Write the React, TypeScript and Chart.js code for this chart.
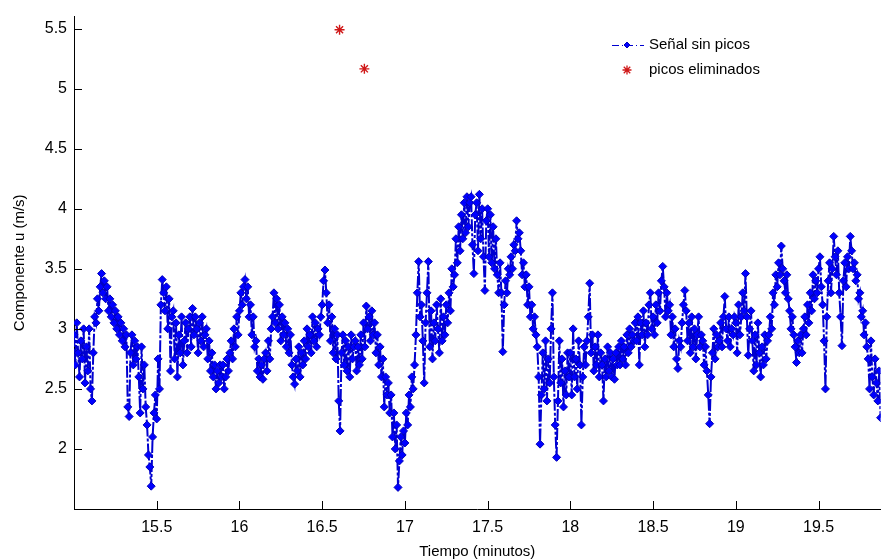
import React, { useEffect, useRef } from "react";
import { Chart, registerables } from "chart.js";

Chart.register(...registerables);

// Time base of the uniformly sampled signal (minutes): 0.5 s steps
const T0 = 15.0;
const DT = 1 / 120;

// Componente u (m/s) (12 samples per 0.1 min)
const signal: number[] = [
  2.95, 2.7, 3.05, 2.8, 2.6, 2.9, 2.75, 3.0, 2.55, 2.85, 2.65, 3.0,
  2.5, 2.4, 2.8, 3.1, 3.05, 3.25, 3.15, 3.35, 3.46, 3.3, 3.4, 3.25,
  3.35, 3.15, 3.25, 3.1, 3.2, 3.05, 3.15, 3.0, 3.1, 2.95, 3.05, 2.9,
  3.0, 2.85, 2.95, 2.35, 2.27, 2.8, 2.95, 2.7, 2.9, 2.75, 2.85, 2.6,
  2.3, 2.85, 2.5, 2.7, 2.35, 2.2, 1.95, 1.85, 1.69, 2.1, 2.3, 2.45,
  2.25, 2.75, 2.5, 3.2, 3.41, 3.3, 3.15, 3.35, 3.0, 3.25, 2.65, 3.1,
  3.15, 2.75, 3.05, 2.6, 2.95, 2.8, 3.1, 2.7, 2.9, 3.05, 2.8, 3.0,
  3.1, 2.85, 3.17, 2.95, 3.1, 3.0, 2.8, 3.05, 2.9, 3.1, 2.85, 2.95,
  3.0, 2.75, 2.9, 2.65, 2.8, 2.6, 2.7, 2.5, 2.65, 2.55, 2.7, 2.6,
  2.7, 2.5, 2.6, 2.75, 2.65, 2.8, 2.9, 2.75, 3.0, 2.85, 3.1, 2.95,
  3.15, 3.3, 3.2, 3.35, 3.41, 3.25, 3.35, 3.1, 3.2, 2.95, 3.1, 2.85,
  2.9, 2.65, 2.75, 2.6, 2.7, 2.58, 2.75, 2.8, 2.65, 2.9, 2.75, 3.0,
  3.1, 3.3, 3.05, 3.25, 3.0, 3.2, 2.9, 3.1, 2.95, 3.05, 2.85, 3.0,
  2.8, 2.95, 2.7, 2.6, 2.54, 2.75, 2.65, 2.85, 2.6, 2.8, 2.7, 2.9,
  2.75, 3.0, 2.85, 2.95, 2.8, 3.1, 2.9, 3.05, 2.85, 3.0, 2.95, 3.1,
  3.2, 3.4, 3.49, 3.3, 3.05, 3.2, 2.9, 3.1, 2.8, 3.0, 2.75, 2.95,
  2.4, 2.15, 2.8, 2.95, 2.7, 2.9, 2.65, 2.85, 2.6, 2.95, 2.75, 2.85,
  2.9, 2.65, 2.85, 2.7, 2.95, 2.75, 3.05, 2.85, 3.19, 3.0, 3.1, 2.9,
  3.15, 2.95, 3.05, 2.8, 2.95, 2.7, 2.85, 2.6, 2.75, 2.35, 2.6, 2.45,
  2.55, 2.3, 2.45, 2.1, 2.3, 2.0, 2.2, 1.68, 1.9, 2.1, 1.95, 2.15,
  2.05, 2.3, 2.2, 2.45, 2.35, 2.6, 2.5, 2.7, 2.95, 3.3, 3.56, 3.1,
  3.2, 2.9, 2.55, 3.05, 3.3, 3.56, 2.85, 3.15, 2.75, 3.05, 2.9, 3.2,
  3.0, 2.8, 3.25, 2.9, 3.1, 2.95, 3.2, 3.05, 3.3, 3.15, 3.5, 3.35,
  3.45, 3.75, 3.55, 3.85, 3.65, 3.95, 3.75, 4.05, 3.8, 4.1, 3.85, 4.05,
  4.1, 3.7, 3.46, 3.95, 4.05, 3.65, 4.12, 3.75, 4.0, 3.6, 3.32, 3.9,
  4.0, 3.6, 3.95, 3.55, 3.85, 3.5, 3.75, 3.45, 3.3, 3.55, 3.3, 2.81,
  3.2, 3.4, 3.3, 3.5, 3.45, 3.6, 3.5, 3.7, 3.65, 3.9, 3.75, 3.8,
  3.65, 3.45, 3.55, 3.35, 3.45, 3.2, 3.35, 3.1, 3.2, 3.0, 3.1, 2.95,
  2.85, 2.6, 2.04, 2.45, 2.8, 2.5, 2.9, 2.4, 2.75, 2.55, 3.0, 3.3,
  2.6, 2.2, 1.93, 2.4, 2.9, 2.55, 2.75, 2.35, 2.65, 2.45, 2.8, 2.6,
  2.8, 2.45, 3.0, 2.6, 2.75, 2.5, 2.9, 2.7, 2.2, 2.6, 2.85, 2.7,
  2.9, 3.1, 3.38, 2.8, 2.95, 2.65, 2.85, 2.7, 2.95, 2.6, 2.8, 2.7,
  2.4, 2.75, 2.6, 2.85, 2.65, 2.8, 2.6, 2.75, 2.58, 2.8, 2.7, 2.85,
  2.7, 2.9, 2.75, 2.85, 2.7, 2.95, 2.8, 3.0, 2.85, 2.95, 2.9, 3.05,
  2.9, 3.1, 2.7, 3.05, 2.95, 3.15, 2.85, 3.05, 2.95, 3.2, 3.3, 3.0,
  3.1, 2.95, 3.2, 3.05, 3.3, 3.15, 3.4, 3.52, 3.35, 3.1, 3.3, 3.15,
  3.2, 2.95, 3.1, 2.85, 3.0, 2.75, 2.67, 2.9, 2.85, 3.05, 3.2, 3.32,
  3.15, 2.9, 3.05, 2.8, 3.1, 2.85, 3.0, 2.75, 2.95, 3.1, 2.85, 2.95,
  2.9, 2.7, 2.85, 2.65, 2.45, 2.21, 2.6, 2.8, 3.0, 2.75, 2.95, 2.85,
  2.9, 3.05, 2.85, 3.1, 3.27, 3.0, 2.9, 3.1, 2.85, 3.0, 2.95, 3.1,
  3.05, 2.8, 3.2, 2.95, 3.1, 3.3, 3.15, 3.46, 3.1, 2.78, 3.0, 3.15,
  2.9, 2.65, 2.95, 2.7, 3.05, 2.8, 2.6, 2.85, 2.7, 2.95, 2.75, 2.9,
  2.95, 3.1, 3.0, 3.3, 3.2, 3.45, 3.35, 3.55, 3.45, 3.69, 3.5, 3.4,
  3.3, 3.45, 3.25, 3.15, 3.0, 3.1, 2.95, 2.85, 2.72, 2.9, 2.8, 2.95,
  2.8, 3.0, 3.1, 2.95, 3.2, 3.05, 3.3, 3.15, 3.45, 3.25, 3.4, 3.3,
  3.5, 3.6, 3.35, 3.2, 2.9, 2.5, 3.1, 3.4, 3.55, 3.3, 3.5, 3.77,
  3.6, 3.45, 3.65, 3.3, 3.1, 2.86, 3.4, 3.55, 3.35, 3.6, 3.5, 3.77,
  3.65, 3.5, 3.55, 3.4, 3.45, 3.25, 3.3, 3.1, 3.15, 2.95, 3.05, 2.85,
  2.75, 2.5, 2.9, 2.6, 2.45, 2.75, 2.55, 2.4, 2.65, 2.26,
];

// Removed peaks
const peakTimes: number[] = [16.605, 16.755];
const peakValues: number[] = [5.49, 5.165];

// Ticks
const xTicks: number[] = [15.5, 16, 16.5, 17, 17.5, 18, 18.5, 19, 19.5];
const yTicks: number[] = [2, 2.5, 3, 3.5, 4, 4.5, 5, 5.5];

const seriesLabel = "Señal sin picos";
const peaksLabel = "picos eliminados";
const xTitle = "Tiempo (minutos)";
const yTitle = "Componente u (m/s)";

const FONT = "'Liberation Sans', Arial, Helvetica, sans-serif";
const BLUE_FILL = "#0000ff";
const BLUE_EDGE = "#0000b8";
const BLUE_LINE = "#0000d0";
const RED = "#d01818";

const inwardTicks = {
  id: "inwardTicks",
  afterDraw(chart: any) {
    const { ctx, chartArea, scales } = chart;
    ctx.save();
    ctx.strokeStyle = "#000";
    ctx.lineWidth = 1;
    ctx.beginPath();
    for (const v of xTicks) {
      const px = Math.round(scales.x.getPixelForValue(v)) + 0.5;
      ctx.moveTo(px, chartArea.bottom);
      ctx.lineTo(px, chartArea.bottom - 8);
    }
    for (const v of yTicks) {
      const py = Math.round(scales.y.getPixelForValue(v)) + 0.5;
      ctx.moveTo(chartArea.left, py);
      ctx.lineTo(chartArea.left + 8, py);
    }
    ctx.stroke();
    ctx.restore();
  },
};

const legendPlugin = {
  id: "matlabLegend",
  afterDraw(chart: any) {
    const { ctx } = chart;
    ctx.save();
    const x1 = 612;
    const x2 = 644;
    const xm = 627;
    const xt = 649;
    const y1 = 45;
    const y2 = 70;
    ctx.strokeStyle = BLUE_LINE;
    ctx.lineWidth = 1;
    ctx.setLineDash([7, 3, 1, 3]);
    ctx.beginPath();
    ctx.moveTo(x1, y1 + 0.5);
    ctx.lineTo(x2, y1 + 0.5);
    ctx.stroke();
    ctx.setLineDash([]);
    ctx.fillStyle = BLUE_FILL;
    ctx.strokeStyle = BLUE_EDGE;
    ctx.beginPath();
    ctx.moveTo(xm, y1 - 3);
    ctx.lineTo(xm + 3, y1);
    ctx.lineTo(xm, y1 + 3);
    ctx.lineTo(xm - 3, y1);
    ctx.closePath();
    ctx.fill();
    ctx.stroke();
    ctx.strokeStyle = RED;
    ctx.lineWidth = 1.3;
    ctx.beginPath();
    const r = 4.5;
    ctx.moveTo(xm - r, y2);
    ctx.lineTo(xm + r, y2);
    ctx.moveTo(xm, y2 - r);
    ctx.lineTo(xm, y2 + r);
    const d = r * 0.72;
    ctx.moveTo(xm - d, y2 - d);
    ctx.lineTo(xm + d, y2 + d);
    ctx.moveTo(xm - d, y2 + d);
    ctx.lineTo(xm + d, y2 - d);
    ctx.stroke();
    ctx.fillStyle = "#000";
    ctx.font = `15px ${FONT}`;
    ctx.textBaseline = "middle";
    ctx.textAlign = "left";
    ctx.fillText(seriesLabel, xt, y1);
    ctx.fillText(peaksLabel, xt, y2);
    ctx.restore();
  },
};

export default function App() {
  const ref = useRef<HTMLCanvasElement | null>(null);

  useEffect(() => {
    if (!ref.current) return;
    Chart.defaults.font.family = FONT;
    const points = signal.map((v, i) => ({ x: T0 + i * DT, y: v }));
    const peaks = peakTimes.map((t, i) => ({ x: t, y: peakValues[i] }));

    const chart = new Chart(ref.current, {
      type: "line",
      data: {
        datasets: [
          {
            label: peaksLabel,
            data: peaks,
            showLine: false,
            pointStyle: "star",
            pointRadius: 5,
            pointBorderColor: RED,
            pointBackgroundColor: RED,
            pointBorderWidth: 1.4,
            borderColor: RED,
          },
          {
            label: seriesLabel,
            data: points,
            borderColor: BLUE_LINE,
            borderWidth: 2,
            borderDash: [12, 2, 3, 2],
            pointStyle: "rectRot",
            pointRadius: 4,
            pointBackgroundColor: BLUE_FILL,
            pointBorderColor: BLUE_EDGE,
            pointBorderWidth: 1,
            tension: 0,
          },
        ],
      },
      options: {
        responsive: false,
        animation: false,
        events: [],
        layout: { padding: { left: 0, right: 0, top: 10, bottom: 0 } },
        plugins: {
          legend: { display: false },
          tooltip: { enabled: false },
        },
        scales: {
          x: {
            type: "linear",
            min: 15,
            max: 19.875,
            grid: { display: false, drawTicks: false },
            border: { display: true, color: "#000", width: 1 },
            afterBuildTicks: (scale: any) => {
              scale.ticks = xTicks.map((v) => ({ value: v }));
            },
            afterFit: (scale: any) => {
              scale.height = 50;
            },
            ticks: {
              color: "#000",
              padding: 9,
              maxRotation: 0,
              autoSkip: false,
              font: { size: 16 },
              callback: (v: any) => String(v),
            },
            title: {
              display: true,
              text: xTitle,
              color: "#000",
              font: { size: 15, lineHeight: 1 },
              padding: { top: 0, bottom: 0 },
            },
          },
          y: {
            type: "linear",
            min: 1.5,
            max: 5.6,
            grid: { display: false, drawTicks: false },
            border: { display: true, color: "#000", width: 1 },
            afterBuildTicks: (scale: any) => {
              scale.ticks = yTicks.map((v) => ({ value: v }));
            },
            afterFit: (scale: any) => {
              scale.width = 74;
            },
            ticks: {
              color: "#000",
              padding: 7,
              autoSkip: false,
              font: { size: 16 },
              callback: (v: any) => String(v),
            },
            title: {
              display: true,
              text: yTitle,
              color: "#000",
              font: { size: 15, lineHeight: 1 },
              padding: { top: 12, bottom: 0 },
            },
          },
        },
      },
      plugins: [inwardTicks, legendPlugin],
    });
    return () => chart.destroy();
  }, []);

  return (
    <div style={{ position: "absolute", left: 0, top: 0, width: 887, height: 559, background: "#fff" }}>
      <canvas ref={ref} width={887} height={559} style={{ display: "block" }} />
    </div>
  );
}
